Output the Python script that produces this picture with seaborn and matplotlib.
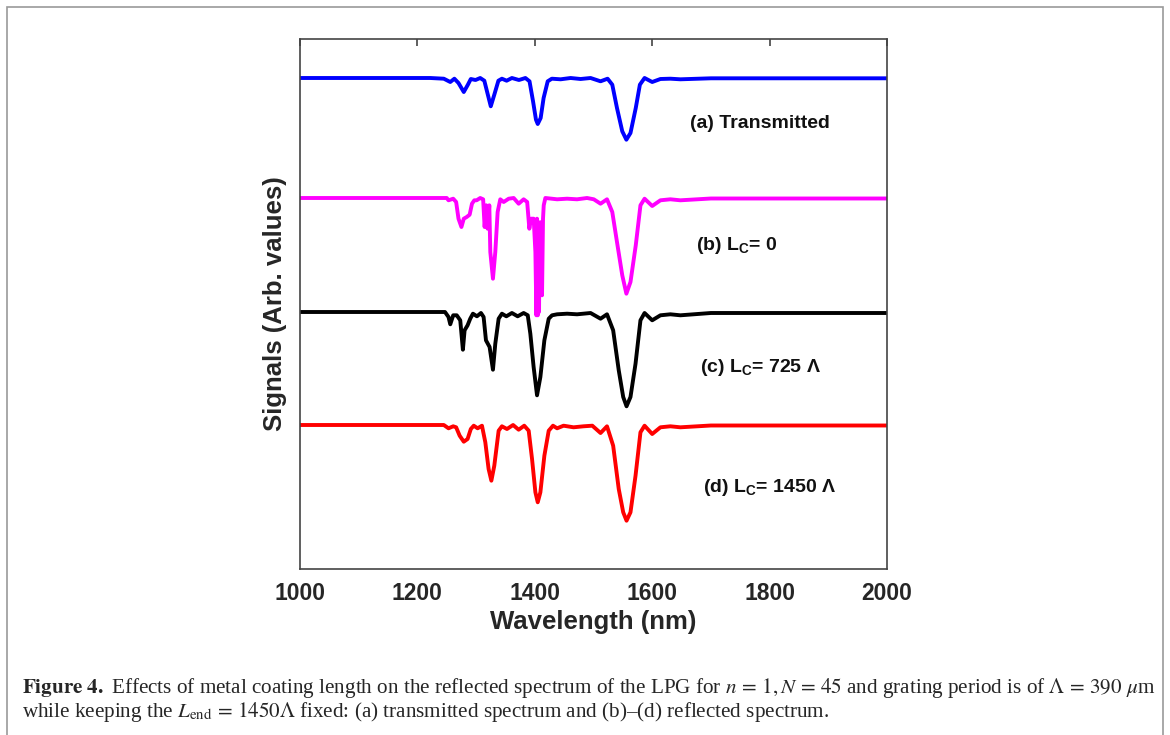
import matplotlib
matplotlib.use("Agg")
import matplotlib.pyplot as plt
from matplotlib.patches import Rectangle
import numpy as np
import pandas as pd
import seaborn as sns

# ---------------- data ----------------
series_names = ["(a) Transmitted", "(b) Lc = 0", "(c) Lc = 725", "(d) Lc = 1450"]
series_colors = ["#0000FF", "#FF00FF", "#000000", "#FF0000"]
offsets = [491, 371, 257, 144]          # vertical stacking of the spectra (arb.)

wl_a = [1000, 1222, 1245, 1256, 1263, 1270, 1279, 1286, 1291, 1299, 1307, 1314, 1320, 1325, 1331, 1338,
        1344, 1352, 1361, 1373, 1384, 1391, 1397, 1402, 1405, 1410, 1415, 1422, 1429, 1444, 1461, 1478,
        1495, 1512, 1524, 1532, 1540, 1549, 1556, 1563, 1572, 1579, 1587, 1600, 1614, 1631, 1648, 1700, 2000]
sig_a = [0, 0, -0.7, -4, -0.7, -5, -14, -6.7, -1, -2, 0, -2.7, -16.7, -28.3, -16.7, -2.7,
         -0.7, -2.7, 0, -2, 0, -3.3, -23.3, -41.7, -46, -40, -20, -3.3, -0.7, -1.3, 0, -1,
         0, -3.3, -0.7, -6.7, -30, -53.3, -61.7, -55, -30, -6.7, 0, -4, -1, -0.7, -1.3, -0.3, -0.3]

wl_b = [1000, 1222, 1250, 1253, 1261, 1266, 1270, 1275, 1279, 1284, 1289, 1293, 1297, 1301, 1307, 1312,
        1314.5, 1317.4, 1319.6, 1322.5, 1324.2, 1328.7, 1332.7, 1336.7, 1341.2, 1347, 1355.5, 1364, 1372.5,
        1381, 1387, 1390.7, 1393.6, 1398.1, 1401, 1402.7, 1403.8, 1405, 1406.1, 1407.2, 1408.4, 1409.5,
        1411.2, 1412.3, 1414, 1415.2, 1418, 1438, 1455, 1472, 1489, 1500.5, 1512, 1523, 1532, 1540, 1549,
        1556, 1563, 1572, 1580, 1587, 1600, 1614, 1631, 1648, 1700, 2000]
sig_b = [0, 0, 0, -2.3, -0.7, -4, -20.7, -29, -20.7, -19, -16.7, -5.7, -2.3, -2.3, 0, -1.3,
         -29, -7.3, -30.7, -7.3, -54, -80.7, -54, -14, -1.3, -4, -0.7, 0, -5.7,
         -1.3, -4, -30.7, -20.7, -20.7, -54, -117.3, -20.7, -117.3, -24, -114, -27.3, -87.3,
         -24, -97.3, -20.7, -7.3, 0, -1.3, -0.7, -1.3, 0, -1.3, -5.7, -1.3, -14, -44, -77.3,
         -95.7, -84, -47.3, -7.3, -0.7, -8, -2.3, -1.3, -2.3, -0.5, -0.5]

wl_c = [1000, 1222, 1247, 1253, 1256, 1261, 1267, 1273, 1277.5, 1280.4, 1285.5, 1290, 1294.6, 1301.4,
        1308.3, 1312.8, 1316.8, 1323, 1328.7, 1332.7, 1338.4, 1344, 1351.5, 1361, 1370.8, 1381, 1388,
        1392.4, 1398, 1403.8, 1409.5, 1416.3, 1423.7, 1429.4, 1438, 1455, 1472, 1495, 1512, 1523, 1533.5,
        1543, 1550.6, 1556.3, 1563, 1571.6, 1580, 1587, 1600, 1614, 1631, 1648, 1700, 2000]
sig_c = [0, 0, 0, -5, -12.3, -3.3, -3.3, -8.3, -37.7, -18.3, -13.3, -6.7, -1.7, -4.3,
         -1, -5, -28.3, -35, -57.7, -31.7, -6.7, -1.7, -4.3, -1, -4.3, -1, -3.3,
         -21.7, -55, -83.3, -65, -28.3, -6.7, -3.3, -2.3, -1.7, -2.3, -1, -6.7, -2.3, -18.3,
         -58.3, -85, -94.3, -85, -51.7, -8.3, -1, -8.3, -3.3, -2.3, -3.3, -1, -1]

wl_d = [1000, 1222, 1245, 1253, 1261, 1266, 1272, 1279, 1285.5, 1291, 1296, 1302.6, 1310, 1315.7,
        1321.3, 1326, 1331, 1338.4, 1344, 1352.6, 1363, 1372.5, 1382, 1389.6, 1395.3, 1401, 1405,
        1409.5, 1416.3, 1423.7, 1431, 1438, 1449, 1466, 1483, 1498, 1512, 1523, 1533.5, 1543, 1550.6,
        1556.3, 1563, 1571.6, 1580, 1587, 1600, 1614, 1631, 1648, 1700, 2000]
sig_d = [0, 0, 0, -3.3, -1.3, -2.3, -10.7, -16.7, -14, -4, -0.7, -3.3, -0.7, -17.3,
         -44, -55.7, -40.7, -5.7, -1.3, -4, 0, -4.7, -0.7, -5.7, -34, -67.3, -77.3,
         -67.3, -30.7, -5.7, -0.7, -3.3, -0.7, -2.3, -1.3, -0.7, -8, -1.3, -20.7, -64, -87.3,
         -95.7, -87.3, -50.7, -7.3, -0.7, -9, -2.3, -1.3, -2.3, -0.5, -0.5]

x_ticks = [1000, 1200, 1400, 1600, 1800, 2000]
annot_texts = ["(a) Transmitted", "(b) L$_\\mathregular{C}$= 0",
               "(c) L$_\\mathregular{C}$= 725 \u039b", "(d) L$_\\mathregular{C}$= 1450 \u039b"]
annot_x = [1665, 1674, 1681, 1686]
annot_y = [446, 323, 201, 81]

# ---------------- build long-form table ----------------
frames = []
for name, wl, sig, off in zip(series_names, [wl_a, wl_b, wl_c, wl_d],
                              [sig_a, sig_b, sig_c, sig_d], offsets):
    frames.append(pd.DataFrame({"wl": wl, "signal": np.array(sig) + off, "series": name}))
df = pd.concat(frames, ignore_index=True)

# ---------------- figure ----------------
sns.set_style("white")
plt.rcParams["font.family"] = ["Liberation Sans", "DejaVu Sans"]

W, H = 1170, 735
fig = plt.figure(figsize=(W / 100, H / 100), dpi=100)
ax = fig.add_axes([300 / W, 1 - 569 / H, 587 / W, 530 / H])

sns.lineplot(data=df, x="wl", y="signal", hue="series",
             palette=dict(zip(series_names, series_colors)),
             sort=False, estimator=None, linewidth=2.8, legend=False, ax=ax)
for ln in ax.get_lines():
    ln.set_solid_joinstyle("round")

ax.set_xlim(1000, 2000)
ax.set_ylim(0, 530)
ax.set_xticks(x_ticks)
ax.set_yticks([])
ax.tick_params(axis="x", direction="in", length=5, width=1.2, color="#444444",
               pad=9, labelsize=16.5, top=True)
for lbl in ax.get_xticklabels():
    lbl.set_fontweight("bold")
for sp in ax.spines.values():
    sp.set_color("#444444")
    sp.set_linewidth(1.2)

ax.set_xlabel("Wavelength (nm)", fontsize=18.5, fontweight="bold")
ax.set_ylabel("Signals (Arb. values)", fontsize=18.5, fontweight="bold")
ax.xaxis.set_label_coords(0.5, -0.078)
ax.yaxis.set_label_coords(-0.022, 0.5)

for t, xx, yy in zip(annot_texts, annot_x, annot_y):
    ax.text(xx, yy, t, fontsize=14, fontweight="bold", ha="left", va="center",
            color="#111111")

# frame around the whole figure
fig.add_artist(Rectangle((7 / W, -0.05), (1163 - 7) / W, 1.05 - 7 / H,
                         transform=fig.transFigure, fill=False,
                         edgecolor="#9a9a9a", linewidth=1.2))

cap1 = (r"$\mathbf{Figure\ 4.}$ Effects of metal coating length on the reflected spectrum of the LPG for "
        r"$n\,=\,1, N\,=\,45$ and grating period is of $\Lambda\,=\,390\ \mu$m")
cap2 = (r"while keeping the $L_{\rm end}\,=\,1450\Lambda$ fixed: (a) transmitted spectrum and "
        "(b)\u2013(d) reflected spectrum.")
fig.text(22 / W, 1 - 688 / H, cap1, fontsize=15.2, family="Liberation Serif",
         math_fontfamily="stix", ha="left", va="center")
fig.text(22 / W, 1 - 712 / H, cap2, fontsize=15.2, family="Liberation Serif",
         math_fontfamily="stix", ha="left", va="center")

fig.savefig("out.png", dpi=100)
